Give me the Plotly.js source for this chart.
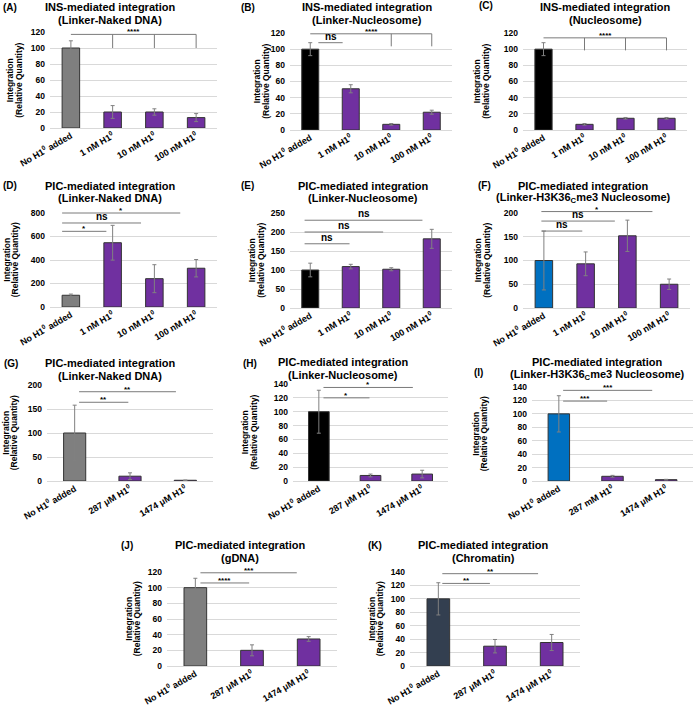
<!DOCTYPE html>
<html><head><meta charset="utf-8">
<script src="https://cdn.plot.ly/plotly-3.0.1.min.js"></script>
<style>body{margin:0;background:#fff}#chart{width:696px;height:707px}</style>
</head><body><div id="chart"></div>
<script>
// ---- categories / tick labels ----
const cats4 = ['No H1<sup>0</sup> added','1 nM H1<sup>0</sup>','10 nM H1<sup>0</sup>','100 nM H1<sup>0</sup>'];
const cats3 = ['No H1<sup>0</sup> added','287 μM H1<sup>0</sup>','1474 μM H1<sup>0</sup>'];
const cats3I = ['No H1<sup>0</sup> added','287 mM H1<sup>0</sup>','1474 μM H1<sup>0</sup>'];

// ---- values (relative quantity) and error bars ----
const valsA = [100, 20, 20, 13];   const errA = [9, 8, 4, 5];
const valsB = [100, 51, 7, 22];    const errB = [8, 5, 1, 2.5];
const valsC = [100, 7, 14.5, 14.5];const errC = [8, 1, 1, 1];
const valsD = [100, 547, 241, 330];const errD = [10, 148, 119, 74];
const valsE = [100, 109, 102, 182];const errE = [18, 6, 4, 25];
const valsF = [100, 93, 152, 50];  const errF = [62, 25, 33, 11];
const valsG = [100, 10, 1.5];      const errG = [58, 7, 0.5];
const valsH = [100, 8, 10];        const errH = [31, 2, 5.5];
const valsI = [100, 7, 2];         const errI = [27, 1.4, 0.5];
const valsJ = [100, 20, 34.5];     const errJ = [12, 7, 3];
const valsK = [100, 29.5, 35];     const errK = [24, 10, 12];

// ---- significance brackets: [from, to, level, label, drops, dropTo] ----
const sigA = [[0, 3, 117, '****', [1,2,3], 100]];
const sigB = [[0.2, 0.8, 108, 'ns', [], 0], [0, 3, 119, '****', [2,3], 103.5]];
const sigC = [[0, 3, 114, '****', [1,2,3], 98.5]];
const sigD = [[-0.21, 0.85, 644, '*'], [-0.21, 1.68, 715, 'ns'], [-0.21, 2.62, 800, '*']];
const sigE = [[-0.14, 0.97, 169, 'ns'], [-0.14, 1.8, 200, 'ns'], [-0.14, 2.77, 231, 'ns']];
const sigF = [[-0.06, 0.92, 162, 'ns'], [-0.06, 1.7, 183, 'ns'], [-0.06, 2.6, 203, '*']];
const sigG = [[0.08, 0.97, 164, '**'], [0.08, 1.83, 186, '**']];
const sigH = [[0.09, 0.98, 120, '*'], [0.09, 1.82, 135, '*']];
const sigI = [[0.08, 0.90, 119, '***'], [0.08, 1.74, 135, '***']];
const sigJ = [[0.09, 0.95, 106, '****'], [0.09, 1.79, 119, '***']];
const sigK = [[0.07, 0.91, 123, '**'], [0.07, 1.76, 137.5, '**']];

// ---- colours ----
const GRAY = '#7F7F7F', PURPLE = '#7030A0', BLACK = '#000000', BLUE = '#0070C0', NAVY = '#333F50';

const W = 696, H = 707;
const FONT = 'Arial, "Liberation Sans", sans-serif';

const panels = [
 {lab:'(A)', cats:cats4, vals:valsA, errs:errA, c0:GRAY,  ymax:120, dt:20, box:[50,217,32,128],  t1:'INS-mediated integration', t2:'(Linker-Naked DNA)', tx:110, ty:7,  lx:1,   ly:7,  yt:14.5, sig:sigA},
 {lab:'(B)', cats:cats4, vals:valsB, errs:errB, c0:BLACK, ymax:120, dt:20, box:[290,452,33,130], t1:'INS-mediated integration', t2:'(Linker-Nucleosome)', tx:367, ty:7, lx:239, ly:7, yt:261, sig:sigB},
 {lab:'(C)', cats:cats4, vals:valsC, errs:errC, c0:BLACK, ymax:120, dt:20, box:[523,687,33,130], t1:'INS-mediated integration', t2:'(Nucleosome)', tx:605, ty:7, lx:477, ly:6, yt:481, sig:sigC},
 {lab:'(D)', cats:cats4, vals:valsD, errs:errD, c0:GRAY,  ymax:800, dt:200, box:[50,217,213,307], t1:'PIC-mediated integration', t2:'(Linker-Naked DNA)', tx:110, ty:186, lx:1, ly:185, yt:11, sig:sigD},
 {lab:'(E)', cats:cats4, vals:valsE, errs:errE, c0:BLACK, ymax:250, dt:50, box:[290,452,213,308], t1:'PIC-mediated integration', t2:'(Linker-Nucleosome)', tx:363, ty:186, lx:239, ly:185, yt:256, sig:sigE},
 {lab:'(F)', cats:cats4, vals:valsF, errs:errF, c0:BLUE,  ymax:200, dt:50, box:[523,690,213,308], t1:'PIC-mediated integration', t2:'(Linker-H3K36<sub>C</sub>me3 Nucleosome)', tx:583, ty:186, lx:476, ly:185, yt:482, sig:sigF},
 {lab:'(G)', cats:cats3, vals:valsG, errs:errG, c0:GRAY,  ymax:200, dt:50, box:[47,213,385,481], t1:'PIC-mediated integration', t2:'(Linker-Naked DNA)', tx:110, ty:363, lx:2, ly:363, yt:10, sig:sigG},
 {lab:'(H)', cats:cats3, vals:valsH, errs:errH, c0:BLACK, ymax:140, dt:20, box:[293,448,384,481], t1:'PIC-mediated integration', t2:'(Linker-Nucleosome)', tx:343, ty:362, lx:241, ly:363, yt:249, sig:sigH},
 {lab:'(I)', cats:cats3I, vals:valsI, errs:errI, c0:BLUE, ymax:140, dt:20, box:[532,693,387,481], t1:'PIC-mediated integration', t2:'(Linker-H3K36<sub>C</sub>me3 Nucleosome)', tx:597, ty:362, lx:472, ly:372, yt:480, sig:sigI},
 {lab:'(J)', cats:cats3, vals:valsJ, errs:errJ, c0:GRAY,  ymax:120, dt:20, box:[167,337,572,666], t1:'PIC-mediated integration', t2:'(gDNA)', tx:240, ty:545, lx:119, ly:545, yt:133, sig:sigJ},
 {lab:'(K)', cats:cats3, vals:valsK, errs:errK, c0:NAVY,  ymax:140, dt:20, box:[410,580,572,666], t1:'PIC-mediated integration', t2:'(Chromatin)', tx:483, ty:545, lx:366, ly:545, yt:376, sig:sigK}
];

const data = [], shapes = [], annotations = [];
const layout = {
  width: W, height: H, margin:{l:0,r:0,t:0,b:0},
  paper_bgcolor:'#fff', plot_bgcolor:'#fff', showlegend:false,
  font:{family:FONT, color:'#000'}
};

panels.forEach((p, i) => {
  const n = i === 0 ? '' : String(i + 1);
  const xa = 'x' + n, ya = 'y' + n;
  const [x0, x1, yt, yb] = p.box;
  const yd0 = 1 - yb / H, yd1 = 1 - yt / H;
  const nc = p.cats.length;
  data.push({
    type:'bar', x:p.cats, y:p.vals, xaxis:xa, yaxis:ya,
    width: nc === 4 ? 0.42 : 0.4,
    marker:{color:p.cats.map((c, k) => k === 0 ? p.c0 : PURPLE), line:{color:'#333333', width:1}},
    error_y:{type:'data', array:p.errs, visible:true, color:'#808080', thickness:1, width:2},
    hoverinfo:'skip'
  });
  layout['xaxis' + n] = {
    domain:[x0 / W, x1 / W], anchor:ya, type:'category', range:[-0.5, nc - 0.5],
    tickangle:-30, showgrid:false, showline:false, zeroline:false, ticks:'',
    tickfont:{family:FONT, size:9, weight:'bold', color:'#000'}, fixedrange:true
  };
  layout['yaxis' + n] = {
    domain:[yd0, yd1], anchor:xa, range:[0, p.ymax], dtick:p.dt, tick0:0,
    showgrid:true, gridcolor:'#D9D9D9', gridwidth:1, zeroline:true, zerolinecolor:'#D9D9D9', zerolinewidth:1,
    showline:false, ticks:'', ticklabelstandoff:4,
    tickfont:{family:FONT, size:8.5, weight:'bold', color:'#000'}, fixedrange:true
  };
  const py = v => yd0 + (v / p.ymax) * (yd1 - yd0);
  const ln = {color:'#7a7a7a', width:1};
  p.sig.forEach(s => {
    const [a, b, lev, txt, drops, dropTo] = s;
    shapes.push({type:'line', xref:xa, yref:'paper', x0:a, x1:b, y0:py(lev), y1:py(lev), line:ln});
    (drops || []).forEach(d => {
      shapes.push({type:'line', xref:xa, yref:'paper', x0:d, x1:d, y0:py(lev), y1:py(dropTo), line:ln});
    });
    const isStar = txt.indexOf('*') >= 0;
    annotations.push({
      xref:xa, yref:'paper', x:(a + b) / 2, y:py(lev), text:txt, showarrow:false,
      xanchor:'center', yanchor:'bottom', yshift: isStar ? -4 : -1,
      font:{family:FONT, size: isStar ? 8 : 10, weight:'bold', color:'#000'}
    });
  });
  // titles
  annotations.push({xref:'paper', yref:'paper', x:p.tx / W, y:1 - p.ty / H, text:'<b>' + p.t1 + '</b>', showarrow:false,
    xanchor:'center', yanchor:'middle', font:{family:FONT, size:11, color:'#000'}});
  annotations.push({xref:'paper', yref:'paper', x:p.tx / W, y:1 - (p.ty + 12.5) / H, text:'<b>' + p.t2 + '</b>', showarrow:false,
    xanchor:'center', yanchor:'middle', font:{family:FONT, size:11, color:'#000'}});
  // panel label
  annotations.push({xref:'paper', yref:'paper', x:p.lx / W, y:1 - p.ly / H, text:'<b>' + p.lab + '</b>', showarrow:false,
    xanchor:'left', yanchor:'middle', font:{family:FONT, size:10, color:'#000'}});
  // y axis title (two lines)
  const ymid = 1 - ((yt + yb) / 2) / H;
  annotations.push({xref:'paper', yref:'paper', x:(p.yt - 4.3) / W, y:ymid, text:'<b>Integration</b>', showarrow:false,
    textangle:-90, xanchor:'center', yanchor:'middle', font:{family:FONT, size:8.5, color:'#000'}});
  annotations.push({xref:'paper', yref:'paper', x:(p.yt + 4.3) / W, y:ymid, text:'<b>(Relative Quantity)</b>', showarrow:false,
    textangle:-90, xanchor:'center', yanchor:'middle', font:{family:FONT, size:8.5, color:'#000'}});
});

layout.shapes = shapes;
layout.annotations = annotations;
Plotly.newPlot('chart', data, layout, {displayModeBar:false, staticPlot:true});
</script>
</body></html>
